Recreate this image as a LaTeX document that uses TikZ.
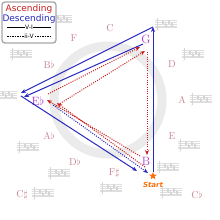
\documentclass[tikz,border=0pt]{standalone}
\usepackage{fontspec}
\newfontfamily\dvs{DejaVu Sans}
\usetikzlibrary{arrows.meta,shapes.geometric}
\definecolor{dblue}{RGB}{40,40,190}
\definecolor{dred}{RGB}{200,30,30}
\definecolor{keyc}{RGB}{200,135,145}
\definecolor{vtx}{RGB}{175,60,205}
\definecolor{orng}{RGB}{255,110,10}
\definecolor{stf}{RGB}{222,222,222}
\tikzset{
  keylab/.style={text=keyc, font=\fontsize{10}{10}\selectfont, inner sep=0pt},
  vtxlab/.style={text=vtx, font=\fontsize{12}{12}\selectfont, inner sep=0pt},
  vione/.style={draw=dblue, line width=1pt, -{Stealth[length=5pt,width=4pt]}},
  iivasc/.style={draw=dred, line width=1pt, dash pattern=on 1pt off 1.3pt, -{Stealth[length=5pt,width=4pt]}},
  iivdesc/.style={draw=dblue, line width=1pt, dash pattern=on 1pt off 1.3pt, -{Stealth[length=5pt,width=4pt]}},
  keystaff/.pic={
    \foreach \i in {0,...,4} \draw[stf, line width=0.4pt] (0,\i*1.9) -- (22,\i*1.9);
    \draw[stf!90!gray, line width=0.6pt] (2.5,-2) -- (2.5,9.5);
    \draw[stf!90!gray, line width=0.5pt] (2.5,9.5) -- (1.5,10.5);
    \foreach \k/\h in {7/0.5,10/3,13/0.2,16/2.8} {
      \draw[stf!90!gray, line width=0.5pt] (\k,\h) -- (\k,\h+3.5);
      \draw[stf!90!gray, line width=0.5pt] (\k+1.5,\h+0.5) -- (\k+1.5,\h+4);
    }
  }
}
\begin{document}
\begin{tikzpicture}[x={(1pt,0)}, y={(0,-1pt)}]
\useasboundingbox (0,0) rectangle (220,220);
\fill[white] (0,0) rectangle (220,220);
% ring
\node[circle, draw=gray!16, line width=9pt, minimum size=108pt, inner sep=0pt] (ring) at (108,100) {};
% staves
\pic at (155,20) {keystaff};
\pic at (182,50) {keystaff};
\pic at (190,95) {keystaff};
\pic at (178,141) {keystaff};
\pic at (157,163) {keystaff};
\pic at (160,188) {keystaff};
\pic at (100,184) {keystaff};
\pic at (48,169) {keystaff};
\pic at (17,143) {keystaff};
\pic at (32,189) {keystaff};
\pic at (-5,91) {keystaff};
\pic at (10,50) {keystaff};
\pic at (50,15) {keystaff};
% key labels
\node[keylab] (kC) at (110,28) {C};
\node[keylab] (kD) at (172,64) {D};
\node[keylab] (kA) at (182,100) {A};
\node[keylab] (kE) at (172,136) {E};
\node[keylab] (kFs) at (114,173) {F$\sharp$};
\node[keylab] (kDb) at (75,162) {D$\flat$};
\node[keylab] (kAb) at (49,136) {A$\flat$};
\node[keylab] (kBb) at (49,65) {B$\flat$};
\node[keylab] (kF) at (74,38) {F};
\node[keylab] (kCs) at (22,195) {C$\sharp$};
\node[keylab] (kCb) at (197,195) {C$\flat$};
% vertex labels
\node[vtxlab] (G) at (146,39) {G};
\node[vtxlab] (Eb) at (38,101) {E$\flat$};
\node[vtxlab] (B) at (146,161) {B};
% coordinates
\coordinate (T) at (153,27);
\coordinate (L) at (21,93);
\coordinate (L2) at (21,96);
\coordinate (Bo) at (153,172);
\coordinate (g2) at (143,44);
\coordinate (l2) at (24,97);
\coordinate (b3) at (137,171);
\coordinate (r1s) at (48,94);
\coordinate (r1e) at (140,47);
\coordinate (r2s) at (56,106);
\coordinate (r2e) at (145,51);
\coordinate (rvs) at (147,52);
\coordinate (rve) at (147,155);
\coordinate (ras) at (140,156);
\coordinate (rae) at (47,100);
\coordinate (rbs) at (145,167);
\coordinate (rbe) at (57,103);
\coordinate (bds) at (53,105);
\coordinate (bde) at (148,173);
% V-I descending
\draw[vione] (Bo) -- (T);
\draw[vione] (T) -- (L);
\draw[vione] (g2) -- (l2);
\draw[vione] (L2) -- (b3);
% ii-V ascending
\draw[iivasc] (r1s) -- (r1e);
\draw[iivasc] (r2s) -- (r2e);
\draw[iivasc] (rvs) -- (rve);
\draw[iivasc] (ras) -- (rae);
\draw[iivasc] (rbs) -- (rbe);
% ii-V descending
\draw[iivdesc] (bds) -- (bde);
% start
\node[star, star points=5, star point ratio=2.3, fill=orng, minimum size=8pt, inner sep=0pt] (star) at (153,176) {};
\node[text=orng, font=\dvs\bfseries\itshape\fontsize{7}{7}\selectfont, inner sep=0pt] (start) at (153,185) {Start};
% legend
\draw[gray!70, line width=1.3pt, fill=white, rounded corners=3pt] (2,2) rectangle (56,43);
\node[text=dred, font=\dvs\fontsize{9}{9}\selectfont, inner sep=0pt] (asc) at (29,9) {Ascending};
\node[text=dblue, font=\dvs\fontsize{9}{9}\selectfont, inner sep=0pt] (desc) at (29,19.5) {Descending};
\coordinate (la1) at (7,27);
\coordinate (la2) at (51,27);
\coordinate (lb1) at (7,36);
\coordinate (lb2) at (51,36);
\draw[black, line width=0.5pt] (la1) -- (la2);
\draw[black, line width=0.5pt, dash pattern=on 1.5pt off 1pt] (lb1) -- (lb2);
\node[fill=white, inner sep=0.6pt, font=\dvs\fontsize{6}{6}\selectfont] (vi) at (29,27) {V-I};
\node[fill=white, inner sep=0.6pt, font=\dvs\fontsize{6}{6}\selectfont] (iiv) at (29,36) {ii-V};
\end{tikzpicture}
\end{document}
